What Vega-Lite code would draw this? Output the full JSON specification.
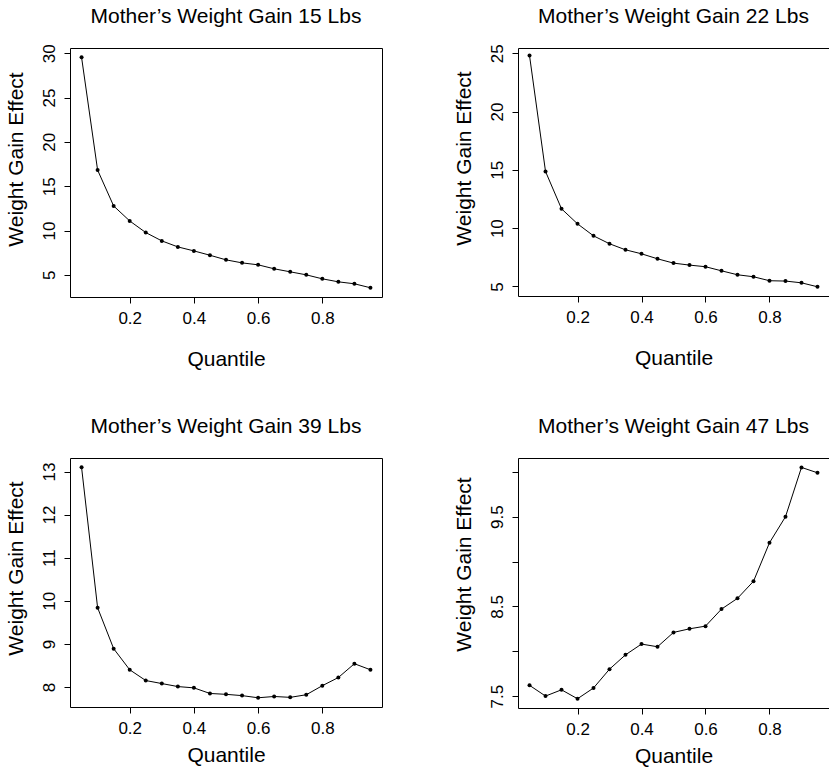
{
  "$schema": "https://vega.github.io/schema/vega-lite/v6.json",
  "padding": {"left": 4, "top": 5, "right": 0, "bottom": 0},
  "background": "white",
  "columns": 2,
  "spacing": {"row": 45, "column": 69},
  "config": {
    "font": "Liberation Sans",
    "view": {"stroke": "black", "strokeWidth": 1},
    "axis": {
      "grid": false,
      "domain": false,
      "tickColor": "black",
      "tickSize": 6,
      "tickWidth": 1,
      "labelColor": "black",
      "labelFont": "Liberation Sans",
      "labelFontSize": 17,
      "titleColor": "black",
      "titleFont": "Liberation Sans",
      "titleFontSize": 21,
      "titleFontWeight": "normal"
    },
    "axisY": {
      "labelAngle": -90,
      "labelAlign": "center",
      "labelBaseline": "bottom",
      "labelPadding": 6,
      "titlePadding": 14
    },
    "axisX": {"labelPadding": 7},
    "title": {
      "font": "Liberation Sans",
      "fontSize": 21,
      "fontWeight": "normal",
      "color": "black",
      "anchor": "middle",
      "frame": "group",
      "baseline": "alphabetic"
    }
  },
  "concat": [
    {
      "width": 312,
      "height": 249,
      "title": {"text": "Mother’s Weight Gain 15 Lbs", "offset": 17},
      "data": {"values": [
        {"q": 0.05, "effect": 29.55}, {"q": 0.10, "effect": 16.82}, {"q": 0.15, "effect": 12.77},
        {"q": 0.20, "effect": 11.08}, {"q": 0.25, "effect": 9.77}, {"q": 0.30, "effect": 8.83},
        {"q": 0.35, "effect": 8.15}, {"q": 0.40, "effect": 7.70}, {"q": 0.45, "effect": 7.21},
        {"q": 0.50, "effect": 6.69}, {"q": 0.55, "effect": 6.35}, {"q": 0.60, "effect": 6.13},
        {"q": 0.65, "effect": 5.68}, {"q": 0.70, "effect": 5.34}, {"q": 0.75, "effect": 5.00},
        {"q": 0.80, "effect": 4.55}, {"q": 0.85, "effect": 4.21}, {"q": 0.90, "effect": 3.99},
        {"q": 0.95, "effect": 3.54}
      ]},
      "encoding": {
        "x": {"field": "q", "type": "quantitative", "title": "Quantile",
              "scale": {"domain": [0.014, 0.986], "nice": false, "zero": false},
              "axis": {"values": [0.2, 0.4, 0.6, 0.8], "format": ".1f", "titlePadding": 22}},
        "y": {"field": "effect", "type": "quantitative", "title": "Weight Gain Effect",
              "scale": {"domain": [2.5, 30.59], "nice": false, "zero": false},
              "axis": {"values": [5, 10, 15, 20, 25, 30], "titleY": 111}}
      },
      "layer": [
        {"mark": {"type": "line", "color": "black", "strokeWidth": 1}},
        {"mark": {"type": "point", "filled": true, "color": "black", "size": 16, "opacity": 1}}
      ]
    },
    {
      "width": 311,
      "height": 248,
      "title": {"text": "Mother’s Weight Gain 22 Lbs", "offset": 17},
      "data": {"values": [
        {"q": 0.05, "effect": 24.80}, {"q": 0.10, "effect": 14.86}, {"q": 0.15, "effect": 11.66},
        {"q": 0.20, "effect": 10.37}, {"q": 0.25, "effect": 9.34}, {"q": 0.30, "effect": 8.66},
        {"q": 0.35, "effect": 8.14}, {"q": 0.40, "effect": 7.80}, {"q": 0.45, "effect": 7.37},
        {"q": 0.50, "effect": 7.00}, {"q": 0.55, "effect": 6.83}, {"q": 0.60, "effect": 6.69},
        {"q": 0.65, "effect": 6.34}, {"q": 0.70, "effect": 6.00}, {"q": 0.75, "effect": 5.83},
        {"q": 0.80, "effect": 5.49}, {"q": 0.85, "effect": 5.46}, {"q": 0.90, "effect": 5.31},
        {"q": 0.95, "effect": 4.97}
      ]},
      "encoding": {
        "x": {"field": "q", "type": "quantitative", "title": "Quantile",
              "scale": {"domain": [0.014, 0.986], "nice": false, "zero": false},
              "axis": {"values": [0.2, 0.4, 0.6, 0.8], "format": ".1f", "titlePadding": 22}},
        "y": {"field": "effect", "type": "quantitative", "title": "Weight Gain Effect",
              "scale": {"domain": [4.18, 25.45], "nice": false, "zero": false},
              "axis": {"values": [5, 10, 15, 20, 25], "titleY": 110}}
      },
      "layer": [
        {"mark": {"type": "line", "color": "black", "strokeWidth": 1}},
        {"mark": {"type": "point", "filled": true, "color": "black", "size": 16, "opacity": 1}}
      ]
    },
    {
      "width": 312,
      "height": 249,
      "title": {"text": "Mother’s Weight Gain 39 Lbs", "offset": 21},
      "data": {"values": [
        {"q": 0.05, "effect": 13.10}, {"q": 0.10, "effect": 9.84}, {"q": 0.15, "effect": 8.89},
        {"q": 0.20, "effect": 8.40}, {"q": 0.25, "effect": 8.15}, {"q": 0.30, "effect": 8.08},
        {"q": 0.35, "effect": 8.01}, {"q": 0.40, "effect": 7.98}, {"q": 0.45, "effect": 7.85},
        {"q": 0.50, "effect": 7.83}, {"q": 0.55, "effect": 7.80}, {"q": 0.60, "effect": 7.75},
        {"q": 0.65, "effect": 7.78}, {"q": 0.70, "effect": 7.76}, {"q": 0.75, "effect": 7.82},
        {"q": 0.80, "effect": 8.03}, {"q": 0.85, "effect": 8.22}, {"q": 0.90, "effect": 8.54},
        {"q": 0.95, "effect": 8.40}
      ]},
      "encoding": {
        "x": {"field": "q", "type": "quantitative", "title": "Quantile",
              "scale": {"domain": [0.014, 0.986], "nice": false, "zero": false},
              "axis": {"values": [0.2, 0.4, 0.6, 0.8], "format": ".1f", "titlePadding": 8}},
        "y": {"field": "effect", "type": "quantitative", "title": "Weight Gain Effect",
              "scale": {"domain": [7.536, 13.314], "nice": false, "zero": false},
              "axis": {"values": [8, 9, 10, 11, 12, 13], "titleY": 110}}
      },
      "layer": [
        {"mark": {"type": "line", "color": "black", "strokeWidth": 1}},
        {"mark": {"type": "point", "filled": true, "color": "black", "size": 16, "opacity": 1}}
      ]
    },
    {
      "width": 311,
      "height": 250,
      "title": {"text": "Mother’s Weight Gain 47 Lbs", "offset": 21},
      "data": {"values": [
        {"q": 0.05, "effect": 7.62}, {"q": 0.10, "effect": 7.50}, {"q": 0.15, "effect": 7.57},
        {"q": 0.20, "effect": 7.47}, {"q": 0.25, "effect": 7.59}, {"q": 0.30, "effect": 7.80},
        {"q": 0.35, "effect": 7.96}, {"q": 0.40, "effect": 8.08}, {"q": 0.45, "effect": 8.05},
        {"q": 0.50, "effect": 8.21}, {"q": 0.55, "effect": 8.25}, {"q": 0.60, "effect": 8.28},
        {"q": 0.65, "effect": 8.47}, {"q": 0.70, "effect": 8.59}, {"q": 0.75, "effect": 8.78},
        {"q": 0.80, "effect": 9.21}, {"q": 0.85, "effect": 9.50}, {"q": 0.90, "effect": 10.05},
        {"q": 0.95, "effect": 9.99}
      ]},
      "encoding": {
        "x": {"field": "q", "type": "quantitative", "title": "Quantile",
              "scale": {"domain": [0.014, 0.986], "nice": false, "zero": false},
              "axis": {"values": [0.2, 0.4, 0.6, 0.8], "format": ".1f", "titlePadding": 8}},
        "y": {"field": "effect", "type": "quantitative", "title": "Weight Gain Effect",
              "scale": {"domain": [7.367, 10.155], "nice": false, "zero": false},
              "axis": {"values": [7.5, 8, 8.5, 9, 9.5, 10], "titleY": 106,
                       "labelExpr": "(abs(datum.value - 7.5) < 0.01 || abs(datum.value - 8.5) < 0.01 || abs(datum.value - 9.5) < 0.01) ? format(datum.value, '.1f') : ''"}}
      },
      "layer": [
        {"mark": {"type": "line", "color": "black", "strokeWidth": 1}},
        {"mark": {"type": "point", "filled": true, "color": "black", "size": 16, "opacity": 1}}
      ]
    }
  ]
}
